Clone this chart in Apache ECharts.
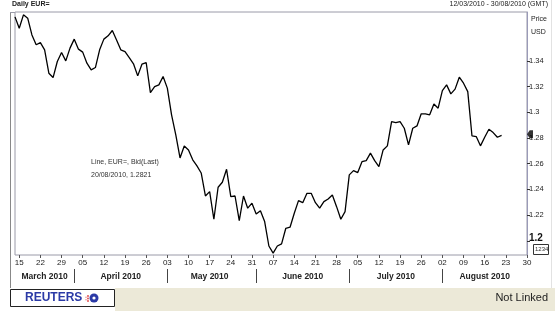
<!DOCTYPE html>
<html><head><meta charset="utf-8">
<script src="https://cdn.jsdelivr.net/npm/echarts@6/dist/echarts.min.js"></script>
<style>html,body{margin:0;padding:0;background:#fff}#c{width:555px;height:314px}</style>
</head><body><div id="c"></div>
<script>
// ---- data (top level) ----
const startDate = '2010-03-12';
const endDate = '2010-08-30';
const prices = [
1.3742,1.3654,1.3758,1.3732,1.3602,1.3525,1.3542,1.3486,1.3304,1.3270,
1.3395,1.3465,1.3400,1.3499,1.3569,1.3491,1.3468,1.3382,1.3330,1.3348,
1.3486,1.3569,1.3595,1.3636,1.3563,1.3486,1.3472,1.3426,1.3377,1.3283,
1.3374,1.3387,1.3153,1.3200,1.3213,1.3278,1.3188,1.2980,1.2824,1.2645,
1.2738,1.2707,1.2630,1.2583,1.2528,1.2349,1.2383,1.2168,1.2417,1.2456,
1.2557,1.2344,1.2349,1.2157,1.2349,1.2254,1.2293,1.2209,1.2235,1.2150,
1.1960,1.1904,1.1960,1.1976,1.2098,1.2106,1.2215,1.2313,1.2297,1.2370,
1.2370,1.2297,1.2254,1.2305,1.2326,1.2357,1.2266,1.2168,1.2227,1.2513,
1.2546,1.2531,1.2616,1.2624,1.2682,1.2624,1.2577,1.2707,1.2739,1.2928,
1.2920,1.2928,1.2876,1.2746,1.2876,1.2894,1.2988,1.2988,1.2980,1.3065,
1.3032,1.3169,1.3213,1.3143,1.3180,1.3273,1.3226,1.3161,1.2816,1.2811,
1.2739,1.2806,1.2868,1.2842,1.2806,1.2821];
const lastValue = 1.2821;
const yTicks = [1.2,1.22,1.24,1.26,1.28,1.3,1.32,1.34];
const monthNames = ['January','February','March','April','May','June','July','August','September','October','November','December'];

// trading-day categories (weekdays)
const dates = [];
(function(){
  let d = new Date(startDate+'T00:00:00Z'); const e = new Date(endDate+'T00:00:00Z');
  while (d <= e) { const w = d.getUTCDay(); if (w !== 0 && w !== 6) dates.push(d.toISOString().slice(0,10)); d = new Date(d.getTime()+86400000); }
})();
const monthStart = new Set(), monthMid = {};
(function(){
  let groups = [];
  dates.forEach((s,i)=>{ const m = s.slice(0,7); if (!groups.length || groups[groups.length-1].m !== m) groups.push({m, first:i, last:i}); else groups[groups.length-1].last = i; });
  groups.forEach((g,k)=>{ if (k>0) monthStart.add(g.first); const mid = Math.ceil((g.first+g.last)/2); monthMid[mid] = monthNames[+g.m.slice(5,7)-1] + ' ' + g.m.slice(0,4); });
})();
const isMonday = i => new Date(dates[i]+'T00:00:00Z').getUTCDay() === 1;
const lastSeries = dates.map((d,i)=> i === dates.length-1 ? lastValue : null);

const FONT = '"Liberation Sans Narrow","Arial Narrow","Liberation Sans",Arial,sans-serif';
const chart = echarts.init(document.getElementById('c'), null, {renderer:'canvas'});
chart.setOption({
  animation:false,
  backgroundColor:'#fff',
  grid:{left:15, right:28, top:12, bottom:59, show:true, borderColor:'#9a9aa8', borderWidth:1, backgroundColor:'#fff'},
  xAxis:[{
    type:'category', data:dates, boundaryGap:false, position:'bottom',
    axisLine:{show:false},
    axisTick:{show:true, interval:(i)=>isMonday(i), length:3, lineStyle:{color:'#555'}},
    axisLabel:{interval:(i)=>isMonday(i), formatter:(v)=>v.slice(8,10), fontSize:8, color:'#222', margin:4, fontFamily:FONT},
    splitLine:{show:false}
  },{
    type:'category', data:dates, boundaryGap:false, position:'bottom', offset:14,
    axisLine:{show:false},
    axisTick:{show:true, interval:(i)=>monthStart.has(i), length:14, lineStyle:{color:'#444', width:1}},
    axisLabel:{interval:(i)=>monthMid[i]!==undefined, formatter:(v,i)=>monthMid[i]||'', fontSize:8.5, fontWeight:'bold', color:'#222', margin:3, fontFamily:FONT},
    splitLine:{show:false}
  }],
  yAxis:{
    type:'value', position:'right', min:1.189, max:1.378,
    axisLine:{show:true, lineStyle:{color:'#9a9ab8'}},
    axisTick:{show:true, customValues:yTicks, length:3, inside:false, lineStyle:{color:'#333'}},
    axisLabel:{customValues:yTicks, margin:2, fontSize:7.5, color:'#222', fontFamily:FONT,
      formatter:(v)=>{ const s = String(Math.round(v*100)/100); return Math.abs(v-1.2)<1e-6 ? '{b|'+s+'}' : s; },
      rich:{b:{fontSize:10, fontWeight:'bold', color:'#111', fontFamily:FONT, padding:[0,0,6,0]}}},
    splitLine:{show:false}
  },
  series:[{
    type:'line', xAxisIndex:0, data:prices, showSymbol:false, symbol:'none',
    lineStyle:{color:'#000', width:1.3}, silent:true
  },{
    type:'scatter', xAxisIndex:0, data:lastSeries, symbol:'path://M0,5 L4,0 L9,0 L9,10 L4,10 Z', symbolSize:[6,8], symbolOffset:[3,-1],
    itemStyle:{color:'#000'}, silent:true
  }],
  graphic:[
    {type:'line', shape:{x1:10.5,y1:12,x2:10.5,y2:288}, style:{stroke:'#888', lineWidth:1}},
    {type:'line', shape:{x1:10,y1:12.5,x2:15,y2:12.5}, style:{stroke:'#9a9aa8', lineWidth:1}},
    {type:'line', shape:{x1:551.5,y1:0,x2:551.5,y2:288}, style:{stroke:'#e2e2e2', lineWidth:1}},
    {type:'text', left:12, top:1, style:{text:'Daily EUR=', font:'bold 7px '+FONT, fill:'#222'}},
    {type:'text', right:7, top:1, style:{text:'12/03/2010 - 30/08/2010 (GMT)', font:'7px '+FONT, fill:'#222'}},
    {type:'text', left:531, top:16, style:{text:'Price', font:'7px '+FONT, fill:'#222'}},
    {type:'text', left:531, top:29, style:{text:'USD', font:'7px '+FONT, fill:'#222'}},
    {type:'text', left:91, top:159, style:{text:'Line, EUR=, Bid(Last)', font:'7px '+FONT, fill:'#333'}},
    {type:'text', left:91, top:172, style:{text:'20/08/2010, 1.2821', font:'7px '+FONT, fill:'#333'}},
    {type:'rect', shape:{x:533.5,y:244.5,width:15,height:10}, style:{fill:'#fff', stroke:'#333', lineWidth:1}},
    {type:'text', left:535, top:246, style:{text:'1234', font:'6px '+FONT, fill:'#333'}},
    {type:'rect', shape:{x:115,y:288,width:440,height:23}, style:{fill:'#ece9d8'}},
    {type:'rect', shape:{x:10.5,y:289.5,width:104,height:17}, style:{fill:'#fff', stroke:'#222', lineWidth:1}},
    {type:'text', left:25, top:292, style:{text:'REUTERS', font:'bold 12px "Liberation Sans",Arial,sans-serif', fill:'#2b3aa6'}},
    {type:'circle', shape:{cx:94,cy:298,r:4.5}, style:{fill:'#2b3aa6'}},
    {type:'circle', shape:{cx:94,cy:298,r:1.6}, style:{fill:'#fff'}},
    {type:'circle', shape:{cx:88,cy:296,r:0.9}, style:{fill:'#e04040'}},
    {type:'circle', shape:{cx:88,cy:298.5,r:0.9}, style:{fill:'#e04040'}},
    {type:'circle', shape:{cx:88,cy:301,r:0.9}, style:{fill:'#e04040'}},
    {type:'circle', shape:{cx:86,cy:297.2,r:0.7}, style:{fill:'#e88080'}},
    {type:'circle', shape:{cx:86,cy:299.8,r:0.7}, style:{fill:'#e88080'}},
    {type:'text', right:7, top:292, style:{text:'Not Linked', font:'11px "Liberation Sans",Arial,sans-serif', fill:'#222'}}
  ]
});
</script></body></html>
